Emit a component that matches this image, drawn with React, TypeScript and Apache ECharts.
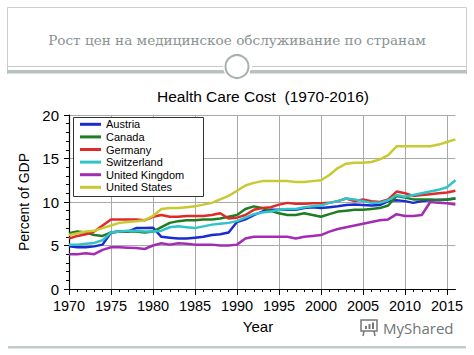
import React, { useEffect, useRef } from 'react';
import * as echarts from 'echarts';

const years = [
  1970, 1971, 1972, 1973, 1974, 1975, 1976, 1977, 1978, 1979,
  1980, 1981, 1982, 1983, 1984, 1985, 1986, 1987, 1988, 1989,
  1990, 1991, 1992, 1993, 1994, 1995, 1996, 1997, 1998, 1999,
  2000, 2001, 2002, 2003, 2004, 2005, 2006, 2007, 2008, 2009,
  2010, 2011, 2012, 2013, 2014, 2015, 2016,
];

const austria = [
  4.9, 4.8, 4.8, 4.9, 5.1, 6.5, 6.6, 6.6, 7.0, 7.0,
  7.05, 6.0, 5.9, 5.8, 5.8, 5.9, 6.0, 6.2, 6.3, 6.5,
  7.7, 8.0, 8.5, 8.9, 9.1, 9.1, 9.1, 9.1, 9.3, 9.4,
  9.3, 9.4, 9.5, 9.65, 9.7, 9.65, 9.6, 9.65, 10.1, 10.2,
  10.1, 9.9, 10.1, 10.2, 10.25, 10.3, 10.4,
];
const canada = [
  6.4, 6.6, 6.5, 6.2, 6.1, 6.5, 6.6, 6.6, 6.6, 6.5,
  6.6, 7.1, 7.6, 7.8, 7.9, 7.9, 8.0, 8.0, 8.1, 8.3,
  8.5, 9.2, 9.5, 9.3, 9.0, 8.7, 8.5, 8.5, 8.7, 8.5,
  8.3, 8.6, 8.9, 9.0, 9.1, 9.1, 9.2, 9.3, 9.6, 10.7,
  10.5, 10.3, 10.3, 10.3, 10.2, 10.3, 10.4,
];
const germany = [
  5.8, 6.1, 6.3, 6.6, 7.3, 8.0, 8.0, 8.0, 8.0, 7.9,
  8.3, 8.5, 8.3, 8.3, 8.4, 8.4, 8.4, 8.5, 8.7, 8.1,
  8.2, 8.5, 9.1, 9.3, 9.4, 9.7, 9.9, 9.8, 9.8, 9.85,
  9.85, 9.9, 10.1, 10.4, 10.1, 10.3, 10.1, 10.0, 10.3, 11.2,
  11.0, 10.7, 10.8, 10.9, 11.0, 11.1, 11.3,
];
const switzerland = [
  5.1, 5.1, 5.2, 5.3, 5.6, 6.5, 6.6, 6.7, 6.7, 6.6,
  6.6, 6.7, 7.1, 7.2, 7.1, 7.0, 7.2, 7.4, 7.5, 7.6,
  7.8, 8.2, 8.6, 8.8, 8.9, 9.1, 9.2, 9.2, 9.4, 9.5,
  9.6, 9.9, 10.1, 10.4, 10.3, 10.1, 9.9, 9.9, 10.2, 10.8,
  10.6, 10.8, 11.0, 11.2, 11.4, 11.7, 12.5,
];
const unitedKingdom = [
  4.0, 4.0, 4.1, 4.0, 4.5, 4.8, 4.8, 4.75, 4.7, 4.6,
  5.0, 5.25, 5.1, 5.25, 5.2, 5.1, 5.1, 5.1, 5.0, 5.0,
  5.1, 5.8, 6.0, 6.0, 6.0, 6.0, 6.0, 5.8, 6.0, 6.1,
  6.2, 6.6, 6.9, 7.1, 7.3, 7.5, 7.7, 7.9, 8.0, 8.6,
  8.4, 8.4, 8.5, 10.0, 9.9, 9.85, 9.7,
];
const unitedStates = [
  6.2, 6.4, 6.6, 6.7, 7.0, 7.3, 7.6, 7.7, 7.8, 7.9,
  8.4, 9.2, 9.3, 9.3, 9.4, 9.5, 9.7, 9.9, 10.3, 10.7,
  11.3, 11.9, 12.2, 12.4, 12.4, 12.4, 12.4, 12.3, 12.3, 12.4,
  12.5, 13.1, 13.9, 14.4, 14.5, 14.5, 14.6, 14.9, 15.4, 16.4,
  16.4, 16.4, 16.4, 16.4, 16.6, 16.9, 17.2,
];

const countryNames = ['Austria', 'Canada', 'Germany', 'Switzerland', 'United Kingdom', 'United States'];
const countryValues = [austria, canada, germany, switzerland, unitedKingdom, unitedStates];
const countryColors = ['#1a2bd0', '#1e7d22', '#e02a2a', '#2ec4c8', '#a42cb4', '#c9c932'];

const yTicks = [0, 5, 10, 15, 20];

const pageTitle = 'Рост цен на медицинское обслуживание по странам';
const chartTitle = 'Health Care Cost  (1970-2016)';
const yName = 'Percent of GDP';
const xName = 'Year';

const SANS = '"Liberation Sans", Arial, sans-serif';

export default function App() {
  const ref = useRef<HTMLDivElement>(null);

  useEffect(() => {
    if (!ref.current) return;
    const chart = echarts.init(ref.current, undefined, { renderer: 'svg' });

    const series = countryNames.map((name, i) => ({
      name,
      type: 'line',
      xAxisIndex: 0,
      yAxisIndex: 0,
      data: years.map((y, j) => [y, countryValues[i][j]]),
      showSymbol: false,
      symbol: 'none',
      lineStyle: { width: 2.5, color: countryColors[i] },
      itemStyle: { color: countryColors[i] },
      z: 2,
    }));

    const frame = '#c9cfcf';
    const graphic: any[] = [
      // header box
      { type: 'line', shape: { x1: 7.5, y1: 7.5, x2: 466.5, y2: 7.5 }, style: { stroke: frame, lineWidth: 1 } },
      { type: 'line', shape: { x1: 7.5, y1: 7.5, x2: 7.5, y2: 74 }, style: { stroke: frame, lineWidth: 1 } },
      { type: 'line', shape: { x1: 466.5, y1: 7.5, x2: 466.5, y2: 74 }, style: { stroke: frame, lineWidth: 1 } },
      { type: 'line', shape: { x1: 7.5, y1: 66.5, x2: 223, y2: 66.5 }, style: { stroke: '#c4caca', lineWidth: 1 } },
      { type: 'line', shape: { x1: 252, y1: 66.5, x2: 466.5, y2: 66.5 }, style: { stroke: '#c4caca', lineWidth: 1 } },
      { type: 'rect', shape: { x: 7, y: 70, width: 218, height: 3.5 }, style: { fill: '#b9c0c0' } },
      { type: 'rect', shape: { x: 250, y: 70, width: 217, height: 3.5 }, style: { fill: '#b9c0c0' } },
      { type: 'circle', shape: { cx: 237, cy: 66.5, r: 14 }, style: { fill: '#ffffff' } },
      { type: 'circle', shape: { cx: 237, cy: 66.5, r: 11.5 }, style: { fill: '#ffffff', stroke: '#a9b0b0', lineWidth: 2 } },
      {
        type: 'text',
        x: 237,
        y: 40,
        style: {
          text: pageTitle,
          fill: '#8a9292',
          font: '13.6px "DejaVu Serif", "Liberation Serif", serif',
          textAlign: 'center',
          textVerticalAlign: 'middle',
        },
      },
      // legend frame
      {
        type: 'rect',
        z: 5,
        shape: { x: 73.5, y: 117.5, width: 130, height: 79 },
        style: { fill: '#ffffff', stroke: '#333333', lineWidth: 1 },
      },
      // bottom rule
      { type: 'rect', shape: { x: 8, y: 346, width: 458, height: 2.5 }, style: { fill: '#bfcaca' } },
      // watermark
      { type: 'rect', shape: { x: 361, y: 320, width: 16, height: 11 }, style: { fill: 'none', stroke: '#777', lineWidth: 1.5 } },
      { type: 'rect', shape: { x: 365, y: 326, width: 2, height: 3 }, style: { fill: '#777' } },
      { type: 'rect', shape: { x: 368.5, y: 324, width: 2, height: 5 }, style: { fill: '#777' } },
      { type: 'rect', shape: { x: 372, y: 322.5, width: 2, height: 6.5 }, style: { fill: '#777' } },
      { type: 'line', shape: { x1: 364, y1: 331, x2: 363, y2: 336 }, style: { stroke: '#777', lineWidth: 1.5 } },
      { type: 'line', shape: { x1: 374, y1: 331, x2: 375, y2: 336 }, style: { stroke: '#777', lineWidth: 1.5 } },
      {
        type: 'text',
        x: 383,
        y: 328,
        style: {
          text: 'MyShared',
          fill: '#6f7676',
          font: '15px "Open Sans", "DejaVu Sans", sans-serif',
          textAlign: 'left',
          textVerticalAlign: 'middle',
        },
      },
    ];

    const option: any = {
      animation: false,
      backgroundColor: '#ffffff',
      title: {
        text: chartTitle,
        left: 157,
        top: 88,
        padding: 0,
        textStyle: { fontFamily: SANS, fontSize: 15.5, fontWeight: 'normal', color: '#000' },
      },
      legend: {
        orient: 'vertical',
        left: 73,
        top: 117,
        data: countryNames,
        icon: 'rect',
        itemWidth: 21,
        itemHeight: 3,
        itemGap: 0,
        padding: [1, 8, 3, 7],
        borderWidth: 0,
        backgroundColor: 'transparent',
        textStyle: { fontFamily: SANS, fontSize: 11, color: '#000', lineHeight: 12.6 },
        z: 10,
      },
      grid: [
        { left: 69, right: 474 - 455.4, top: 115, bottom: 355 - 289, containLabel: false },
        { left: 69, right: 474 - 447, top: 115, bottom: 355 - 289, containLabel: false },
      ],
      xAxis: [
        {
          type: 'value',
          gridIndex: 0,
          min: 1970,
          max: 2016,
          axisLine: { show: true, onZero: false, lineStyle: { color: '#000', width: 1.2 } },
          axisTick: { show: false },
          axisLabel: { show: false },
          splitLine: { show: false },
          z: 1,
        },
        {
          type: 'value',
          gridIndex: 1,
          min: 1970,
          max: 2015,
          interval: 5,
          name: xName,
          nameLocation: 'middle',
          nameGap: 30,
          nameTextStyle: { fontFamily: SANS, fontSize: 15, color: '#000' },
          axisLine: { show: false },
          axisTick: { show: true, length: 6, lineStyle: { color: '#000', width: 1 } },
          minorTick: { show: true, splitNumber: 5, length: 3, lineStyle: { color: '#000', width: 1 } },
          axisLabel: {
            show: true,
            fontFamily: SANS,
            fontSize: 14.5,
            color: '#000',
            margin: 9,
            formatter: (v: number) => String(v),
          },
          splitLine: { show: true, showMinLine: false, showMaxLine: true, lineStyle: { color: '#a9a9a9', width: 1 } },
          z: 0,
        },
      ],
      yAxis: [
        {
          type: 'value',
          gridIndex: 0,
          min: yTicks[0],
          max: yTicks[yTicks.length - 1],
          interval: 5,
          name: yName,
          nameLocation: 'middle',
          nameGap: 33,
          nameTextStyle: { fontFamily: SANS, fontSize: 14, color: '#000' },
          axisLine: { show: true, onZero: false, lineStyle: { color: '#000', width: 1.2 } },
          axisTick: { show: true, length: 5, lineStyle: { color: '#000', width: 1 } },
          minorTick: { show: true, splitNumber: 5, length: 3, lineStyle: { color: '#000', width: 1 } },
          axisLabel: { show: true, fontFamily: SANS, fontSize: 15, color: '#000', margin: 10 },
          splitLine: { show: true, showMinLine: false, showMaxLine: true, lineStyle: { color: '#a9a9a9', width: 1 } },
          z: 1,
        },
        {
          type: 'value',
          gridIndex: 1,
          min: 0,
          max: 20,
          show: false,
        },
      ],
      series,
      graphic,
    };

    chart.setOption(option);
    return () => chart.dispose();
  }, []);

  return (
    <div
      ref={ref}
      style={{ position: 'fixed', left: 0, top: 0, width: 474, height: 355, background: '#fff' }}
    />
  );
}
